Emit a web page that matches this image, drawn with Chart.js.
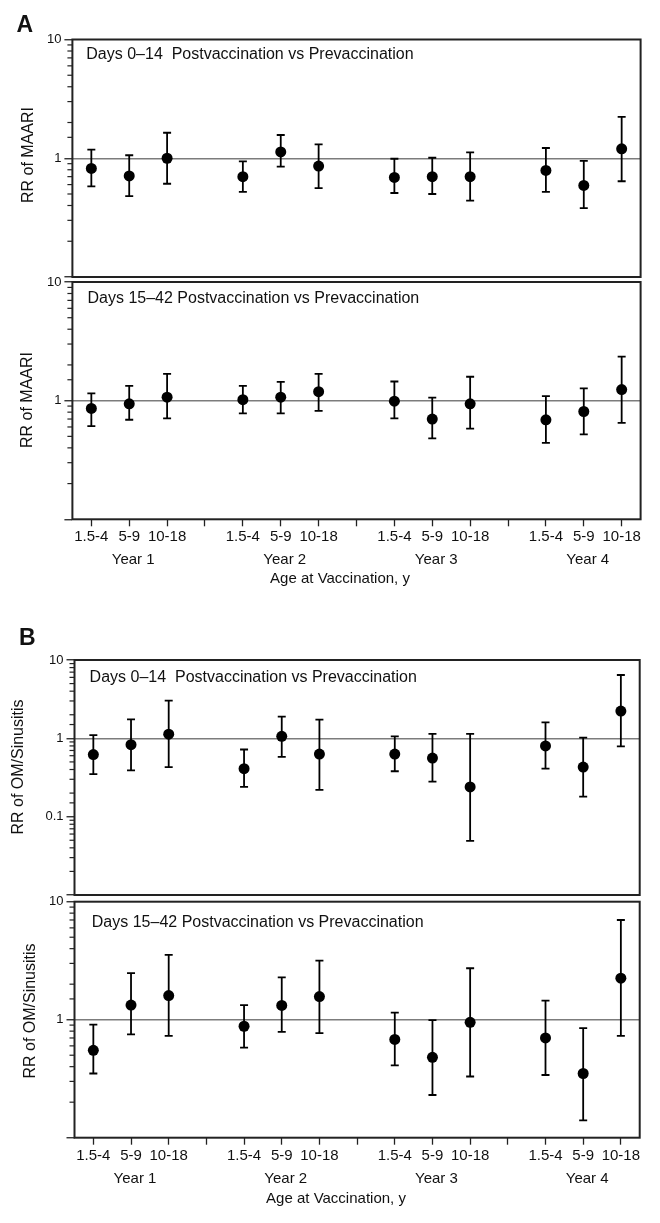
<!DOCTYPE html>
<html>
<head>
<meta charset="utf-8">
<script src="https://cdn.jsdelivr.net/npm/chart.js@4.4.1/dist/chart.umd.min.js"></script>
<style>
  body { margin: 0; background: #fff; width: 660px; height: 1223px; position: relative; overflow: hidden; }
  canvas { position: absolute; left: 0; }
</style>
</head>
<body>
<canvas id="maariEarly" width="660" height="290" style="top:0px"></canvas>
<canvas id="maariLate" width="660" height="330" style="top:270px"></canvas>
<canvas id="omEarly" width="660" height="305" style="top:600px"></canvas>
<canvas id="omLate" width="660" height="333" style="top:890px"></canvas>
<script>
const FONT = "'Liberation Sans', Arial, Helvetica, sans-serif";

// x positions: 3 age groups per year, a gap between years
const xPositions = [1, 2, 3, 5, 6, 7, 9, 10, 11, 13, 14, 15];
const ageGroups = ['1.5-4', '5-9', '10-18'];
const yearLabels = ['Year 1', 'Year 2', 'Year 3', 'Year 4'];
const yearCentres = [2, 6, 10, 14];

// A: RR of MAARI, days 0-14
const maariEarlyRR   = [0.82, 0.71, 1.00, 0.70, 1.13, 0.86, 0.69, 0.70, 0.70, 0.79, 0.59, 1.20];
const maariEarlyLow  = [0.58, 0.48, 0.61, 0.52, 0.85, 0.56, 0.51, 0.50, 0.44, 0.52, 0.38, 0.64];
const maariEarlyHigh = [1.18, 1.06, 1.64, 0.94, 1.57, 1.31, 0.99, 1.01, 1.12, 1.22, 0.95, 2.23];

// A: RR of MAARI, days 15-42
const maariLateRR   = [0.86, 0.94, 1.07, 1.02, 1.07, 1.19, 0.99, 0.70, 0.94, 0.69, 0.81, 1.24];
const maariLateLow  = [0.61, 0.69, 0.71, 0.78, 0.78, 0.82, 0.71, 0.48, 0.58, 0.44, 0.52, 0.65];
const maariLateHigh = [1.15, 1.33, 1.68, 1.33, 1.44, 1.68, 1.45, 1.06, 1.59, 1.09, 1.27, 2.35];

// B: RR of OM/Sinusitis, days 0-14
const omEarlyRR   = [0.62, 0.83, 1.13, 0.41, 1.06, 0.63, 0.63, 0.56, 0.24, 0.80, 0.43, 2.23];
const omEarlyLow  = [0.35, 0.39, 0.43, 0.24, 0.58, 0.22, 0.38, 0.28, 0.049, 0.41, 0.18, 0.79];
const omEarlyHigh = [1.10, 1.75, 3.03, 0.72, 1.89, 1.73, 1.06, 1.14, 1.14, 1.60, 1.02, 6.43];

// B: RR of OM/Sinusitis, days 15-42
const omLateRR   = [0.55, 1.33, 1.60, 0.88, 1.32, 1.57, 0.68, 0.48, 0.95, 0.70, 0.35, 2.25];
const omLateLow  = [0.35, 0.75, 0.73, 0.58, 0.79, 0.77, 0.41, 0.23, 0.33, 0.34, 0.14, 0.73];
const omLateHigh = [0.91, 2.48, 3.54, 1.33, 2.28, 3.17, 1.15, 0.99, 2.73, 1.45, 0.85, 7.00];

const isDecade = v => Math.abs(Math.log10(v) - Math.round(Math.log10(v))) < 1e-6;

// frame, minor ticks, error bars and the free text
const panelDecor = {
  id: 'panelDecor',
  beforeDatasetsDraw(chart, args, o) {
    const { ctx, chartArea: a, scales: { x, y } } = chart;
    ctx.save();
    ctx.strokeStyle = '#222';
    ctx.lineWidth = 1.2;
    y.ticks.forEach(t => {
      if (isDecade(t.value)) return;
      const py = y.getPixelForValue(t.value);
      ctx.beginPath(); ctx.moveTo(a.left - 5, py); ctx.lineTo(a.left, py); ctx.stroke();
    });
    const ds = chart.data.datasets[0];
    ctx.strokeStyle = '#000';
    ctx.lineWidth = 1.8;
    ds.data.forEach((p, i) => {
      const px = x.getPixelForValue(p.x);
      const lo = y.getPixelForValue(ds.errLow[i]);
      const hi = y.getPixelForValue(ds.errHigh[i]);
      ctx.beginPath();
      ctx.moveTo(px, lo); ctx.lineTo(px, hi);
      ctx.moveTo(px - 4, lo); ctx.lineTo(px + 4, lo);
      ctx.moveTo(px - 4, hi); ctx.lineTo(px + 4, hi);
      ctx.stroke();
    });
    ctx.restore();
  },
  afterDraw(chart, args, o) {
    const { ctx, chartArea: a, scales: { x } } = chart;
    ctx.save();
    ctx.strokeStyle = '#222';
    ctx.lineWidth = 2;
    ctx.strokeRect(a.left, a.top, a.right - a.left, a.bottom - a.top);

    ctx.translate(0, -o.top);
    ctx.fillStyle = '#111';
    ctx.textBaseline = 'alphabetic';
    ctx.textAlign = 'left';
    ctx.font = '16px ' + FONT;
    ctx.fillText(o.title, o.titleX, o.titleY);

    if (o.letter) {
      ctx.font = 'bold 23px ' + FONT;
      ctx.fillText(o.letter, o.letterX, o.letterY);
    }

    ctx.save();
    ctx.font = '16px ' + FONT;
    ctx.textAlign = 'center';
    ctx.textBaseline = 'middle';
    ctx.translate(o.yTitleX, o.yTitleY);
    ctx.rotate(-Math.PI / 2);
    ctx.fillText(o.yTitle, 0, 0);
    ctx.restore();

    if (o.yearY) {
      ctx.font = '15px ' + FONT;
      ctx.textAlign = 'center';
      yearLabels.forEach((lab, i) => {
        ctx.fillText(lab, x.getPixelForValue(yearCentres[i]) + 4, o.yearY);
      });
      ctx.fillText('Age at Vaccination, y', o.xTitleX, o.xTitleY);
    }
    ctx.restore();
  }
};

function makePanel(id, p) {
  const canvas = document.getElementById(id);
  const top = parseFloat(canvas.style.top);
  const H = canvas.height;
  const xAxisH = 30;
  const padBottom = p.showX ? (top + H - p.bottom - xAxisH) : (top + H - p.bottom);

  return new Chart(canvas, {
    type: 'scatter',
    data: {
      datasets: [{
        data: xPositions.map((xv, i) => ({ x: xv, y: p.rr[i] })),
        errLow: p.low,
        errHigh: p.high,
        pointRadius: 5.5,
        pointHoverRadius: 5.5,
        backgroundColor: '#000',
        borderWidth: 0
      }]
    },
    options: {
      responsive: false,
      animation: false,
      events: [],
      layout: { padding: { top: p.top - top, right: 660 - p.right, bottom: padBottom, left: 0 } },
      plugins: {
        legend: { display: false },
        tooltip: { enabled: false },
        panelDecor: Object.assign({ top: top }, p.decor)
      },
      scales: {
        x: {
          type: 'linear',
          min: 0.5,
          max: 15.5,
          display: p.showX,
          afterBuildTicks: s => { s.ticks = [1,2,3,4,5,6,7,8,9,10,11,12,13,14,15].map(v => ({ value: v })); },
          afterFit: s => {
            s.height = p.showX ? xAxisH : 0;
            s.paddingLeft = 0; s.paddingRight = 0;
          },
          border: { display: false },
          grid: { drawOnChartArea: false, drawTicks: true, tickLength: 7, tickColor: '#222', tickWidth: 1.3 },
          ticks: {
            autoSkip: false,
            maxRotation: 0,
            padding: 2,
            color: '#111',
            font: { family: FONT, size: 15 },
            callback: v => {
              const i = xPositions.indexOf(v);
              return i >= 0 ? ageGroups[i % 3] : '';
            }
          }
        },
        y: {
          type: 'logarithmic',
          min: p.yMin,
          max: 10,
          afterFit: s => {
            s.width = p.left;
            s.paddingTop = 0; s.paddingBottom = 0;
          },
          border: { display: false },
          grid: {
            drawOnChartArea: true,
            drawTicks: true,
            tickLength: 8,
            lineWidth: 1.5,
            tickWidth: 1.3,
            color: c => (c.tick && Math.abs(c.tick.value - 1) < 1e-9) ? '#7c7c7c' : 'rgba(0,0,0,0)',
            tickColor: c => (c.tick && isDecade(c.tick.value)) ? '#222' : 'rgba(0,0,0,0)'
          },
          ticks: {
            autoSkip: false,
            padding: 3,
            color: '#111',
            font: { family: FONT, size: 13 },
            callback: v => {
              const lab = p.yLabels.find(l => Math.abs(parseFloat(l) - v) < 1e-9);
              return lab || '';
            }
          }
        }
      }
    },
    plugins: [panelDecor]
  });
}

makePanel('maariEarly', {
  rr: maariEarlyRR, low: maariEarlyLow, high: maariEarlyHigh,
  yMin: 0.1, yLabels: ['10', '1'],
  top: 39.5, bottom: 277, left: 72.4, right: 640.6, showX: false,
  decor: {
    title: 'Days 0\u201314  Postvaccination vs Prevaccination', titleX: 86.3, titleY: 59.3,
    letter: 'A', letterX: 16.5, letterY: 31.7,
    yTitle: 'RR of MAARI', yTitleX: 28.4, yTitleY: 155
  }
});

makePanel('maariLate', {
  rr: maariLateRR, low: maariLateLow, high: maariLateHigh,
  yMin: 0.1, yLabels: ['10', '1'],
  top: 282, bottom: 519.3, left: 72.4, right: 640.6, showX: true,
  decor: {
    title: 'Days 15\u201342 Postvaccination vs Prevaccination', titleX: 87.5, titleY: 303.3,
    yTitle: 'RR of MAARI', yTitleX: 28, yTitleY: 400,
    yearY: 564, xTitleX: 340, xTitleY: 583
  }
});

makePanel('omEarly', {
  rr: omEarlyRR, low: omEarlyLow, high: omEarlyHigh,
  yMin: 0.01, yLabels: ['10', '1', '0.1'],
  top: 660, bottom: 895, left: 74.5, right: 639.7, showX: false,
  decor: {
    title: 'Days 0\u201314  Postvaccination vs Prevaccination', titleX: 89.6, titleY: 681.7,
    letter: 'B', letterX: 19, letterY: 645,
    yTitle: 'RR of OM/Sinusitis', yTitleX: 19, yTitleY: 767
  }
});

makePanel('omLate', {
  rr: omLateRR, low: omLateLow, high: omLateHigh,
  yMin: 0.1, yLabels: ['10', '1'],
  top: 901.7, bottom: 1137.7, left: 74.5, right: 639.7, showX: true,
  decor: {
    title: 'Days 15\u201342 Postvaccination vs Prevaccination', titleX: 91.8, titleY: 926.7,
    yTitle: 'RR of OM/Sinusitis', yTitleX: 30.5, yTitleY: 1011,
    yearY: 1183, xTitleX: 336, xTitleY: 1203
  }
});
</script>
</body>
</html>
